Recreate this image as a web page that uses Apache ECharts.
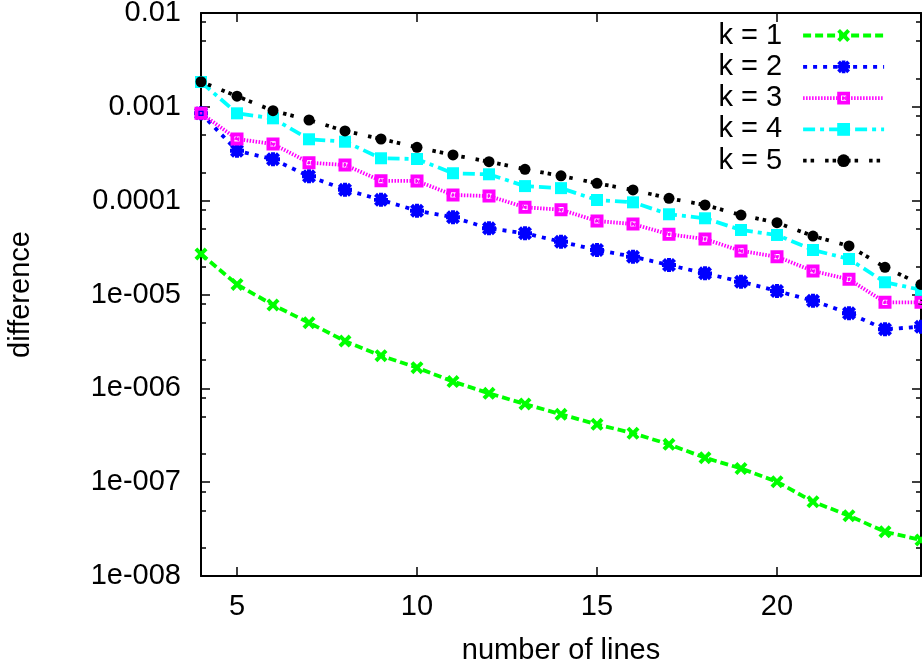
<!DOCTYPE html>
<html><head><meta charset="utf-8">
<script src="https://cdn.jsdelivr.net/npm/echarts@6/dist/echarts.min.js"></script>
<style>html,body{margin:0;padding:0;background:#fff}#c{width:922px;height:671px}</style>
</head><body><div id="c"></div><script>
const lines = [4,5,6,7,8,9,10,11,12,13,14,15,16,17,18,19,20,21,22,23,24];
const k1 = [2.70e-5,1.28e-5,7.73e-6,5.00e-6,3.19e-6,2.23e-6,1.66e-6,1.18e-6,8.85e-7,6.81e-7,5.28e-7,4.13e-7,3.32e-7,2.53e-7,1.82e-7,1.40e-7,1.01e-7,6.19e-8,4.39e-8,2.96e-8,2.42e-8];
const k2 = [8.53e-4,3.41e-4,2.76e-4,1.82e-4,1.31e-4,1.02e-4,7.82e-5,6.65e-5,5.07e-5,4.49e-5,3.65e-5,2.98e-5,2.53e-5,2.06e-5,1.68e-5,1.37e-5,1.09e-5,8.59e-6,6.30e-6,4.26e-6,4.54e-6];
const k3 = [8.53e-4,4.54e-4,4.02e-4,2.54e-4,2.40e-4,1.63e-4,1.62e-4,1.15e-4,1.12e-4,8.50e-5,8.01e-5,6.07e-5,5.64e-5,4.38e-5,3.90e-5,2.91e-5,2.53e-5,1.78e-5,1.45e-5,8.25e-6,8.25e-6];
const k4 = [1.84e-3,8.53e-4,7.54e-4,4.51e-4,4.25e-4,2.83e-4,2.78e-4,1.96e-4,1.91e-4,1.43e-4,1.36e-4,1.016e-4,9.60e-5,7.16e-5,6.49e-5,4.87e-5,4.31e-5,2.98e-5,2.39e-5,1.35e-5,1.12e-5];
const k5 = [1.85e-3,1.30e-3,9.09e-4,7.24e-4,5.53e-4,4.54e-4,3.70e-4,3.07e-4,2.60e-4,2.16e-4,1.84e-4,1.53e-4,1.30e-4,1.06e-4,8.99e-5,7.03e-5,5.82e-5,4.20e-5,3.29e-5,1.95e-5,1.28e-5];
const seriesNames = ['k = 1','k = 2','k = 3','k = 4','k = 5'];
const xTickValues = [5,10,15,20];
const yTickValues = [1e-8,1e-7,1e-6,1e-5,1e-4,1e-3,1e-2];
const yTickLabels = ['1e-008','1e-007','1e-006','1e-005','0.0001','0.001','0.01'];
const yMinorMult = [2,5,8];

const FONT = "'Liberation Sans', Arial, sans-serif";
const FS = 29;
const yMinorValues = [];
for (let e = -8; e < -2; e++) for (const m of yMinorMult) yMinorValues.push(+(m + 'e' + e));

const symX = 'path://M0,2.6 L2.6,0 L6,3.4 L9.4,0 L12,2.6 L8.6,6 L12,9.4 L9.4,12 L6,8.6 L2.6,12 L0,9.4 L3.4,6 Z';
const symStar = 'path://M0,2.6 L2.6,0 L6,3.4 L9.4,0 L12,2.6 L8.6,6 L12,9.4 L9.4,12 L6,8.6 L2.6,12 L0,9.4 L3.4,6 Z M4.3,0 L7.7,0 L7.7,4.3 L12,4.3 L12,7.7 L7.7,7.7 L7.7,12 L4.3,12 L4.3,7.7 L0,7.7 L0,4.3 L4.3,4.3 Z';
const symBox = 'path://M0,0 L14,0 L14,14 L0,14 Z M4.2,4.2 L4.2,9.8 L9.8,9.8 L9.8,4.2 Z M5.6,5.6 L8.4,5.6 L8.4,8.4 L5.6,8.4 Z';

const styles = [
  {color:'#00ff00', type:[8,4], width:3.8, symbol:symX, size:13},
  {color:'#0000ff', type:[4,6], width:3.8, symbol:symStar, size:14},
  {color:'#ff00ff', type:[1.5,1.5], width:3.8, symbol:symBox, size:13},
  {color:'#00ffff', type:[12,5,4,5], width:3.8, symbol:'rect', size:12},
  {color:'#000000', type:[3.5,4,3.5,11], width:3.8, symbol:'circle', size:11}
];
const dataSets = [k1,k2,k3,k4,k5];

const chart = echarts.init(document.getElementById('c'));
const tickStyle = {color:'#000', width:1.5};
function yAx(pos, major, labels, line) {
  return {
    type:'log', logBase:10, min:1e-8, max:0.01, position:pos, gridIndex:0,
    axisLine:{show:line, lineStyle:{color:'#000', width:2}},
    axisTick:{show:true, inside:true, length: major?9:5, customValues: major?yTickValues:yMinorValues, lineStyle:tickStyle},
    axisLabel:{show:labels, customValues:yTickValues, margin:20, fontSize:FS, fontFamily:FONT, color:'#000',
      formatter: v => yTickLabels[Math.round(Math.log10(v)) + 8]},
    splitLine:{show:false}, minorTick:{show:false},
    name: labels ? 'difference' : '', nameLocation:'middle', nameGap:166, nameRotate:90,
    nameTextStyle:{fontSize:FS, fontFamily:FONT, color:'#000'}
  };
}
function xAx(pos, labels) {
  return {
    type:'value', min:4, max:24, position:pos, gridIndex:0,
    axisLine:{show:true, lineStyle:{color:'#000', width:2}},
    axisTick:{show:true, inside:true, length:9, customValues:xTickValues, lineStyle:tickStyle},
    axisLabel:{show:labels, customValues:xTickValues, margin:16, fontSize:FS, fontFamily:FONT, color:'#000'},
    splitLine:{show:false},
    name: labels ? 'number of lines' : '', nameLocation:'middle', nameGap:60,
    nameTextStyle:{fontSize:FS, fontFamily:FONT, color:'#000'}
  };
}

chart.setOption({
  animation:false,
  backgroundColor:'#fff',
  grid:{left:201, right:1, top:13, bottom:95, containLabel:false, outerBoundsMode:'none'},
  xAxis:[xAx('bottom', true), xAx('top', false)],
  yAxis:[yAx('left', true, true, true), yAx('left', false, false, false), yAx('right', true, false, true), yAx('right', false, false, false)],
  legend:{
    data: seriesNames, orient:'vertical', right:31, top:16, align:'right',
    itemWidth:81, itemHeight:16, itemGap:2.3,
    lineStyle:{width:3.8},
    textStyle:{fontSize:FS, lineHeight:28, fontFamily:FONT, color:'#000', padding:[0,16,0,0]}
  },
  series: seriesNames.map((n,i) => ({
    name:n, type:'line', xAxisIndex:0, yAxisIndex:0,
    data: lines.map((x,j) => [x, dataSets[i][j]]),
    symbol: styles[i].symbol, symbolSize: styles[i].size, showSymbol:true, showAllSymbol:true,
    itemStyle:{color:styles[i].color, borderWidth:0},
    lineStyle:{color:styles[i].color, width:styles[i].width, type:styles[i].type, cap:'butt'},
    emphasis:{disabled:true}, clip:false
  }))
});
</script></body></html>
